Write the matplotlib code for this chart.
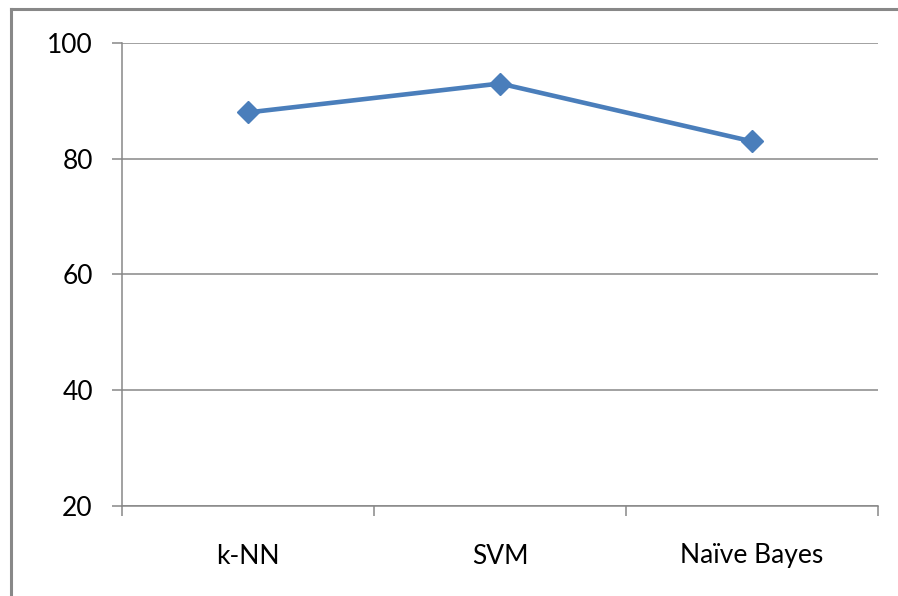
import matplotlib.pyplot as plt
from matplotlib.lines import Line2D
import numpy as np

classifiers = ['k-NN', 'SVM', 'Naïve Bayes']
accuracy = [88, 93, 83]
yticks = [20, 40, 60, 80, 100]

plt.rcParams['font.family'] = ['Lato', 'DejaVu Sans']
grey = '#878787'

fig = plt.figure(figsize=(8.98, 5.96), dpi=100)
ax = fig.add_axes([122/898, 1-506/596, 756/898, 463/596])

x = np.arange(len(classifiers))
ax.plot(x, accuracy, color='#4a7ebb', lw=3.3, marker='D', markersize=11,
        solid_joinstyle='round', zorder=3)

ax.set_xlim(-0.5, len(classifiers)-0.5)
ax.set_ylim(20, 100)
ax.set_yticks(yticks)
ax.set_xticks(x)
ax.set_xticklabels(classifiers)
ax.set_xticks(np.arange(len(classifiers)+1)-0.5, minor=True)
ax.grid(axis='y', color=grey, lw=1.1)
ax.set_axisbelow(True)

for s in ['top', 'right']:
    ax.spines[s].set_visible(False)
for s in ['left', 'bottom']:
    ax.spines[s].set_color(grey)
    ax.spines[s].set_linewidth(1.1)

ax.tick_params(axis='y', length=7, width=1.1, color=grey, pad=14, labelsize=19)
ax.tick_params(axis='x', which='major', length=0, pad=27, labelsize=19)
ax.tick_params(axis='x', which='minor', length=7, width=1.1, color=grey)

# outer chart frame (left and top edges)
fig.add_artist(Line2D([11/898, 11/898], [0, 1-9/596], color='#888888', lw=2.2))
fig.add_artist(Line2D([11/898, 1], [1-9/596, 1-9/596], color='#888888', lw=2.2))

fig.savefig('out.png', dpi=100)
